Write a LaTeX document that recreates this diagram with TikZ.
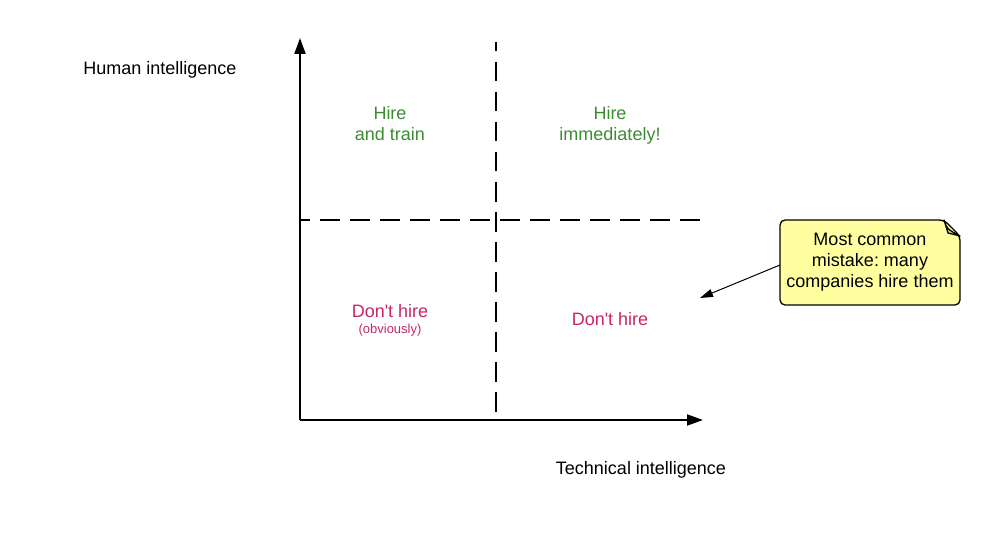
\documentclass[tikz,border=0pt]{standalone}
\usepackage{fontspec}
\setmainfont{Liberation Sans}
\usetikzlibrary{arrows.meta}
\definecolor{hiregreen}{HTML}{3C8C32}
\definecolor{nopink}{HTML}{C7276A}
\definecolor{noteyellow}{HTML}{FFFFA0}
\definecolor{notefold}{HTML}{CFCE8C}
\frenchspacing
\tikzset{
  lbl/.style={font=\fontsize{18}{21}\selectfont, align=center, inner sep=0pt},
  greenlbl/.style={lbl, text=hiregreen},
  pinklbl/.style={lbl, text=nopink},
  axis/.style={line width=2pt, -{Triangle[length=16pt,width=11pt]}},
  divider/.style={line width=2pt, dash pattern=on 19.5pt off 10.5pt, dash phase=10pt},
}
\begin{document}
\begin{tikzpicture}[x=1pt,y=-1pt]
\useasboundingbox (0,0) rectangle (1000,540);
% axes
\coordinate (o) at (300,420);
\coordinate (ytop) at (300,38);
\coordinate (xend) at (703,420);
\draw[axis] (o) -- (ytop);
\draw[axis] (o) -- (xend);
% dividers
\coordinate (vtop) at (496,42);
\coordinate (vbot) at (496,420);
\coordinate (hleft) at (300,220);
\coordinate (hright) at (700,220);
\draw[divider] (vtop) -- (vbot);
\draw[divider] (hleft) -- (hright);
% labels
\node[lbl] (ylabel) at (160,69.5) {Human intelligence};
\node[lbl] (xlabel) at (641,469.5) {Technical intelligence};
\node[greenlbl] (q1) at (390,123.5) {Hire\\and train};
\node[greenlbl] (q2) at (610,125.5) {Hire\\immediately!};
\node[pinklbl] (q3) at (390,311.5) {Don\textquotesingle t hire};
\node[lbl, text=nopink, font=\fontsize{13}{15}\selectfont] (q3b) at (390,330) {(obviously)};
\node[pinklbl] (q4) at (610,319.5) {Don\textquotesingle t hire};
% note
\draw[line width=1.3pt, fill=noteyellow, rounded corners=5pt]
  (780,220) -- (944,220) -- (960,236) -- (960,305) -- (780,305) -- cycle;
\draw[line width=1.3pt, fill=notefold, line join=round]
  (944,220) .. controls (947,229) .. (960,236) -- (948,233) -- cycle;
\node[lbl] (note) at (870,262.5) {Most common\\mistake: many\\companies hire them};
\coordinate (nstart) at (780,265);
\coordinate (nend) at (700,298);
\draw[line width=1pt, -{Triangle[length=13pt,width=8pt]}] (nstart) -- (nend);
\end{tikzpicture}
\end{document}
